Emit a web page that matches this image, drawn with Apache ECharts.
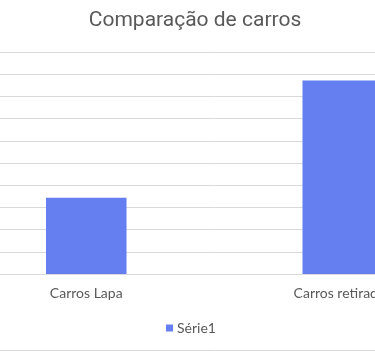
<!DOCTYPE html>
<html>
<head>
<meta charset="utf-8">
<script src="https://cdn.jsdelivr.net/npm/echarts@6/dist/echarts.min.js"></script>
<style>
html,body{margin:0;padding:0;background:#fff;overflow:hidden;width:375px;height:351px;position:relative;}
#chart{position:absolute;left:-42px;top:0;width:513px;height:351px;}
</style>
</head>
<body>
<div id="chart"></div>
<script>
const titleText = 'Comparação de carros';
const categories = ['Carros Lapa', 'Carros retirados'];
const seriesName = 'Série1';
const seriesValues = [3.44, 8.72];
const yMax = 10;
const yInterval = 1;

const OFF = 42; // container offset
const chart = echarts.init(document.getElementById('chart'), null, {renderer: 'canvas'});
chart.setOption({
  animation: false,
  backgroundColor: '#ffffff',
  title: {
    text: titleText,
    left: 190 + OFF,
    textAlign: 'center',
    top: 5,
    textStyle: {fontFamily: 'Roboto', fontSize: 21, fontWeight: 'normal', color: '#595959'}
  },
  legend: {
    data: [seriesName],
    left: 166 + OFF - 5,
    top: 316,
    itemWidth: 7,
    itemHeight: 7,
    itemGap: 4,
    icon: 'rect',
    textStyle: {fontFamily: 'Lato', fontSize: 14, color: '#595959', padding: [0,0,0,-1]}
  },
  grid: {left: 0, right: 0, top: 52, bottom: 77, containLabel: false},
  xAxis: {
    type: 'category',
    data: categories,
    axisLine: {show: true, lineStyle: {color: '#d9d9d9', width: 1}},
    axisTick: {show: false},
    axisLabel: {fontFamily: 'Lato', fontSize: 14, color: '#595959', margin: 12}
  },
  yAxis: {
    type: 'value',
    min: 0,
    max: yMax,
    interval: yInterval,
    axisLine: {show: false},
    axisTick: {show: false},
    axisLabel: {show: false},
    splitLine: {show: true, lineStyle: {color: '#d9d9d9', width: 1}}
  },
  series: [{
    name: seriesName,
    type: 'bar',
    data: seriesValues,
    barWidth: '31.4%',
    itemStyle: {color: '#657ef0'}
  }],
  graphic: [{
    type: 'line',
    shape: {x1: 0, y1: 350.5, x2: 513, y2: 350.5},
    style: {stroke: '#d9d9d9', lineWidth: 1}
  }]
});
</script>
</body>
</html>
